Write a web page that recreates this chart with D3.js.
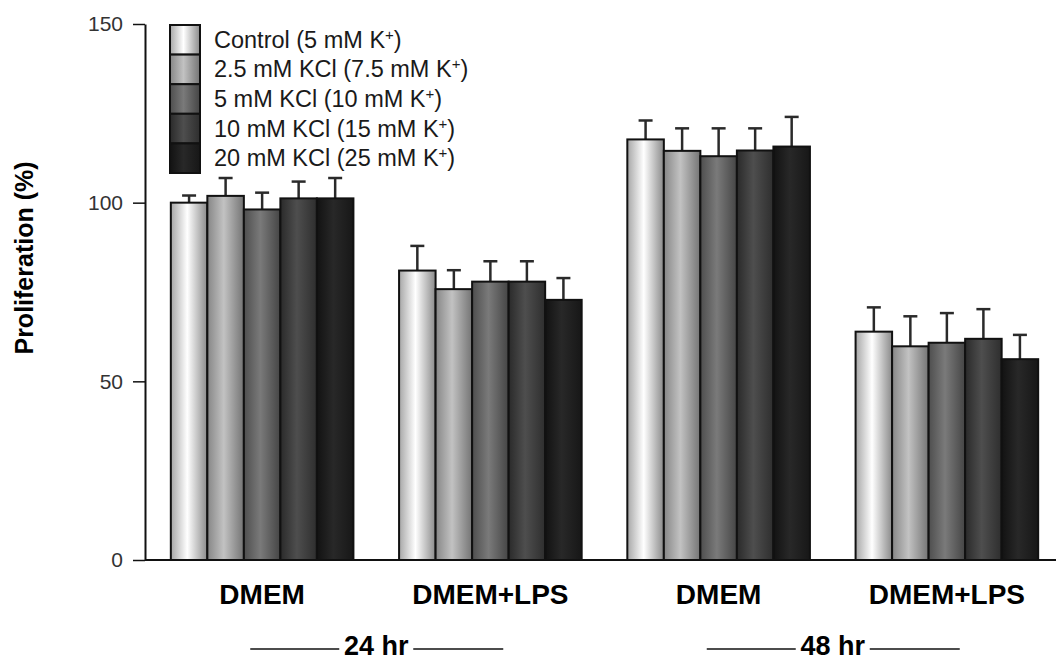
<!DOCTYPE html>
<html>
<head>
<meta charset="utf-8">
<script src="https://cdn.jsdelivr.net/npm/d3@7"></script>
<style>
  html, body { margin: 0; padding: 0; background: #fff; }
  svg { display: block; font-family: "Liberation Sans", Arial, sans-serif; }
</style>
</head>
<body>
<div id="chart"></div>
<script>
// groups along the x axis
var groups = ['24-DMEM', '24-LPS', '48-DMEM', '48-LPS'];
var groupLabels = ['DMEM', 'DMEM+LPS', 'DMEM', 'DMEM+LPS'];
var timeLabels = ['24 hr', '48 hr'];

// series (legend order)
var series = ['Control (5 mM K+)', '2.5 mM KCl (7.5 mM K+)', '5 mM KCl (10 mM K+)',
              '10 mM KCl (15 mM K+)', '20 mM KCl (25 mM K+)'];

// mean proliferation (%) per series, one value per group
var control = [100, 81, 117.7, 63.9];
var kcl25 = [101.9, 75.8, 114.5, 59.8];
var kcl5 = [98.1, 77.9, 113, 60.8];
var kcl10 = [101.2, 77.9, 114.6, 61.9];
var kcl20 = [101.2, 72.8, 115.7, 56.2];

// upper error (SD) per series
var controlErr = [2, 6.9, 5.3, 6.8];
var kcl25Err = [5, 5.3, 6.3, 8.4];
var kcl5Err = [4.7, 5.7, 7.8, 8.3];
var kcl10Err = [4.7, 5.7, 6.2, 8.3];
var kcl20Err = [5.7, 6.1, 8.3, 6.8];

var yTicks = [0, 50, 100, 150];

var means = [control, kcl25, kcl5, kcl10, kcl20];
var errs = [controlErr, kcl25Err, kcl5Err, kcl10Err, kcl20Err];

// left edge, centre, right edge shading of each bar
var shades = [
  ['#a6a6a6', '#ffffff', '#8a8a8a'],
  ['#868686', '#c2c2c2', '#747474'],
  ['#4e4e4e', '#7a7a7a', '#454545'],
  ['#2a2a2a', '#4e4e4e', '#2e2e2e'],
  ['#121212', '#282828', '#171717']
];

var W = 1056, H = 661;
var svg = d3.select('#chart').append('svg').attr('width', W).attr('height', H);

var x0 = d3.scaleBand().domain(groups).range([148, 1061]).paddingInner(0.2).paddingOuter(0.1);
var x1 = d3.scaleBand().domain(d3.range(series.length)).range([0, x0.bandwidth()]);
var y = d3.scaleLinear().domain([0, 150]).range([560, 24]);

var defs = svg.append('defs');
shades.forEach(function(s, i) {
  var g = defs.append('linearGradient').attr('id', 'grad' + i)
    .attr('x1', '0%').attr('x2', '100%').attr('y1', '0%').attr('y2', '0%');
  g.append('stop').attr('offset', '0%').attr('stop-color', s[0]);
  g.append('stop').attr('offset', '45%').attr('stop-color', s[1]);
  g.append('stop').attr('offset', '100%').attr('stop-color', s[2]);
});

// bars
var rows = [];
groups.forEach(function(g, gi) {
  series.forEach(function(s, si) {
    rows.push({ g: g, si: si, v: means[si][gi], e: errs[si][gi] });
  });
});

// error bars (upper only), drawn under the bars
var eb = svg.append('g').attr('stroke', '#2a2a2a').attr('stroke-width', 2.5);
rows.forEach(function(d) {
  var cx = x0(d.g) + x1(d.si) + x1.bandwidth() / 2;
  eb.append('line').attr('x1', cx).attr('x2', cx).attr('y1', y(d.v)).attr('y2', y(d.v + d.e));
  eb.append('line').attr('x1', cx - 7).attr('x2', cx + 7).attr('y1', y(d.v + d.e)).attr('y2', y(d.v + d.e));
});

svg.append('g').selectAll('rect').data(rows).join('rect')
  .attr('x', function(d) { return x0(d.g) + x1(d.si); })
  .attr('y', function(d) { return y(d.v); })
  .attr('width', x1.bandwidth())
  .attr('height', function(d) { return y(0) - y(d.v); })
  .attr('fill', function(d) { return 'url(#grad' + d.si + ')'; })
  .attr('stroke', '#111')
  .attr('stroke-width', 2);

// y axis
var yAxis = svg.append('g').attr('transform', 'translate(145,0)')
  .call(d3.axisLeft(y).tickValues(yTicks).tickSize(12).tickSizeOuter(0).tickPadding(10));
yAxis.select('.domain').attr('stroke', '#111').attr('stroke-width', 2);
yAxis.selectAll('.tick line').attr('stroke', '#111').attr('stroke-width', 1.5);
yAxis.selectAll('.tick text').attr('font-size', 21).attr('fill', '#333')
  .attr('font-family', '"Liberation Sans", Arial, sans-serif');

// x baseline
svg.append('line').attr('x1', 145).attr('x2', W).attr('y1', y(0)).attr('y2', y(0))
  .attr('stroke', '#111').attr('stroke-width', 2);

// y title
svg.append('text').attr('transform', 'translate(33,258) rotate(-90)')
  .attr('text-anchor', 'middle').attr('font-size', 25).attr('font-weight', 'bold')
  .text('Proliferation (%)');

// group labels
svg.append('g').selectAll('text').data(groups).join('text')
  .attr('x', function(d) { return x0(d) + x0.bandwidth() / 2; })
  .attr('y', 604)
  .attr('text-anchor', 'middle').attr('font-size', 28).attr('font-weight', 'bold')
  .text(function(d, i) { return groupLabels[i]; });

// time labels with side lines
timeLabels.forEach(function(t, i) {
  var a = x0(groups[2 * i]) + x0.bandwidth() / 2;
  var b = x0(groups[2 * i + 1]) + x0.bandwidth() / 2;
  var cx = (a + b) / 2;
  var tg = svg.append('g');
  tg.append('line').attr('x1', cx - 126).attr('x2', cx - 37).attr('y1', 649).attr('y2', 649)
    .attr('stroke', '#111').attr('stroke-width', 1.5);
  tg.append('line').attr('x1', cx + 37).attr('x2', cx + 127).attr('y1', 649).attr('y2', 649)
    .attr('stroke', '#111').attr('stroke-width', 1.5);
  tg.append('text').attr('x', cx).attr('y', 655).attr('text-anchor', 'middle')
    .attr('font-size', 27).attr('font-weight', 'bold').text(t);
});

// legend
var sw = 29.6;
var lg = svg.append('g').attr('transform', 'translate(170,25)');
series.forEach(function(s, i) {
  lg.append('rect').attr('x', 0).attr('y', i * sw).attr('width', 30).attr('height', sw)
    .attr('fill', 'url(#grad' + i + ')').attr('stroke', '#111').attr('stroke-width', 2);
  var parts = s.split('+');
  var t = lg.append('text').attr('x', 44).attr('y', i * sw + sw / 2 + 8)
    .attr('font-size', 23.5).attr('fill', '#1a1a1a');
  t.append('tspan').text(parts[0]);
  t.append('tspan').attr('font-size', 15).attr('dy', -8).text('+');
  t.append('tspan').attr('dy', 8).text(parts[1]);
});
</script>
</body>
</html>
